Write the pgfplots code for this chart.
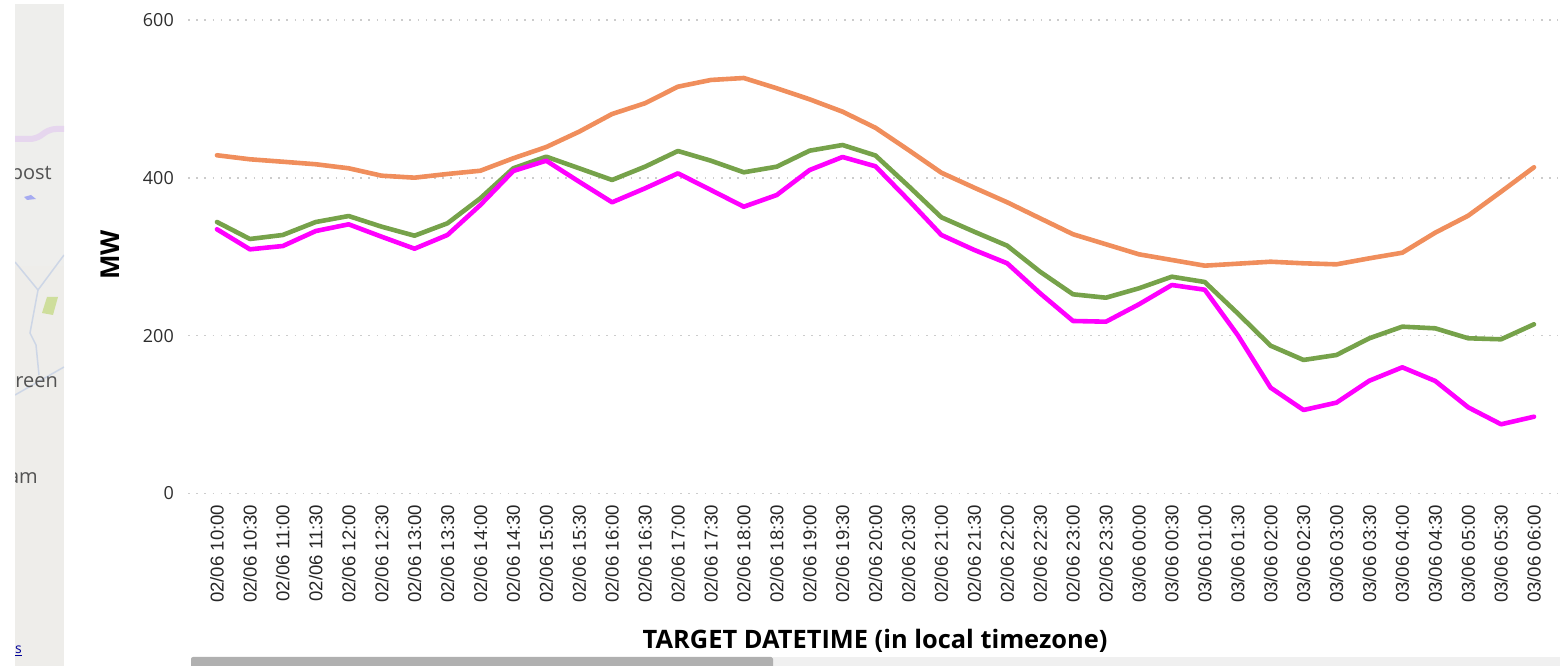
\documentclass[border=0pt]{standalone}
\usepackage{fontspec}
\setmainfont{Open Sans}
\newfontfamily\arialf{Liberation Sans}
\usepackage{pgfplots}
\usepackage{pgfplotstable}
\pgfplotsset{compat=1.18}
\definecolor{cOrange}{HTML}{F08E5C}
\definecolor{cGreen}{HTML}{76A24A}
\definecolor{cMag}{HTML}{FF00FF}
\definecolor{cMap}{HTML}{EEEDEA}
\definecolor{cMapTop}{HTML}{EEEEEC}
\definecolor{cRoad}{HTML}{E6D6EE}
\definecolor{cWater}{HTML}{CDD6E6}
\definecolor{cPark}{HTML}{CEDE9C}
\pgfplotstableread{
i orange green magenta
0 428.6 344.0 334.8
1 423.5 322.5 309.4
2 420.4 327.6 313.6
3 417.2 344.0 332.6
4 412.1 351.6 341.1
5 402.7 338.1 325.4
6 400.2 326.7 310.2
7 404.9 342.4 327.6
8 409.0 374.1 365.6
9 424.8 412.1 408.7
10 439.0 426.8 421.7
11 458.5 412.1 395.1
12 480.9 397.3 369.0
13 494.5 414.1 386.7
14 515.5 434.0 405.7
15 524.0 421.7 384.6
16 526.5 407.0 363.4
17 513.5 414.1 378.2
18 499.5 434.4 409.9
19 483.8 441.6 426.4
20 463.4 428.3 414.6
21 435.3 389.7 371.9
22 406.5 350.0 327.6
23 387.5 331.7 308.6
24 369.0 314.0 291.7
25 348.7 281.0 253.7
26 328.5 252.4 218.6
27 315.8 248.1 217.7
28 303.1 260.0 239.7
29 295.9 274.7 264.2
30 288.7 268.0 258.2
31 291.2 228.3 200.8
32 293.7 187.3 134.1
33 291.7 169.2 105.8
34 290.4 175.5 115.1
35 298.0 196.7 142.9
36 305.1 211.4 159.9
37 330.5 209.3 142.6
38 352.0 196.7 109.2
39 382.4 195.4 87.7
40 413.4 214.4 97.3
}\datatable
\begin{document}
\begin{tikzpicture}[x=1pt,y=1pt]
\path[use as bounding box] (0,0) rectangle (1566,666);
% map strip (y = 666 - pixel row)
\begin{scope}
\clip (15,0) rectangle (64,662);
\fill[cMap] (15,0) rectangle (64,662);
\fill[cMapTop] (15,400) rectangle (64,662);
\draw[cRoad,line width=6pt,rounded corners=6pt] (13,527) -- (36,527) -- (50,537) -- (66,537);
\draw[cWater,line width=1.5pt] (15,404) -- (38,376) -- (64,411);
\draw[cWater,line width=1.5pt] (38,376) -- (30,333) -- (36,321) -- (39,291);
\draw[cWater,line width=1.5pt] (15,271) -- (64,299);
\fill[cPark] (42,353) -- (47,369) -- (58,369) -- (53,351) -- cycle;
\fill[cWater!70!blue!80] (24,469) -- (31,471) -- (36,467) -- (27,466) -- cycle;
\node[anchor=base east,inner sep=0pt,text=black!68] at (52,486) {\fontsize{20}{22}\selectfont post};
\node[anchor=base east,inner sep=0pt,text=black!68] at (58,278) {\fontsize{20}{22}\selectfont reen};
\node[anchor=base east,inner sep=0pt,text=black!68] at (38,182) {\fontsize{20}{22}\selectfont am};
\node[anchor=base west,inner sep=0pt,text=blue!60!black] at (15,12) {\fontsize{14}{15}\selectfont \underline{s}};
\end{scope}
% scrollbar
\fill[black!6] (773,0) rectangle (1560,9);
\fill[black!31] (191,0) -- (191,7) arc (180:90:2) -- (771,9) arc (90:0:2) -- (773,0) -- cycle;
\begin{axis}[
  at={(188pt,172.5pt)},anchor=south west,
  scale only axis,width=1370pt,height=473.5pt,
  xmin=-0.88,xmax=40.73,ymin=0,ymax=600,
  axis line style={draw=none},
  major tick length=0pt,
  ymajorgrids,
  grid style={draw=black!20,line width=1.6pt,dash pattern=on 1.6pt off 6.6pt},
  ytick={0,200,400,600},
  xtick={0,...,40},
  xticklabels={02/06 10:00,02/06 10:30,02/06 11:00,02/06 11:30,02/06 12:00,02/06 12:30,02/06 13:00,02/06 13:30,02/06 14:00,02/06 14:30,02/06 15:00,02/06 15:30,02/06 16:00,02/06 16:30,02/06 17:00,02/06 17:30,02/06 18:00,02/06 18:30,02/06 19:00,02/06 19:30,02/06 20:00,02/06 20:30,02/06 21:00,02/06 21:30,02/06 22:00,02/06 22:30,02/06 23:00,02/06 23:30,03/06 00:00,03/06 00:30,03/06 01:00,03/06 01:30,03/06 02:00,03/06 02:30,03/06 03:00,03/06 03:30,03/06 04:00,03/06 04:30,03/06 05:00,03/06 05:30,03/06 06:00},
  xticklabel style={rotate=90,anchor=east,inner sep=0pt,text=black!85,font=\arialf\fontsize{18.6}{20}\selectfont},
  xticklabel shift=11pt,
  yticklabel style={anchor=east,inner sep=0pt,text=black!82,font=\fontsize{18}{20}\selectfont,/pgf/number format/assume math mode=true},
  yticklabel shift=14pt,
  xlabel={\textbf{TARGET DATETIME (in local timezone)}},
  ylabel={\textbf{MW}},
  xlabel style={at={(axis description cs:0.5015,-0.3115)},anchor=center,inner sep=0pt,font=\fontsize{25.4}{28}\selectfont},
  ylabel style={at={(axis description cs:-0.0569,0.5037)},anchor=center,rotate=0,inner sep=0pt,font=\fontsize{26}{28}\selectfont},
  every axis plot/.append style={line width=4.6pt,line join=round,line cap=round,no marks},
]
\addplot[cOrange] table[x=i,y=orange] {\datatable};
\addplot[cGreen] table[x=i,y=green] {\datatable};
\addplot[cMag] table[x=i,y=magenta] {\datatable};
\end{axis}
\end{tikzpicture}
\end{document}
